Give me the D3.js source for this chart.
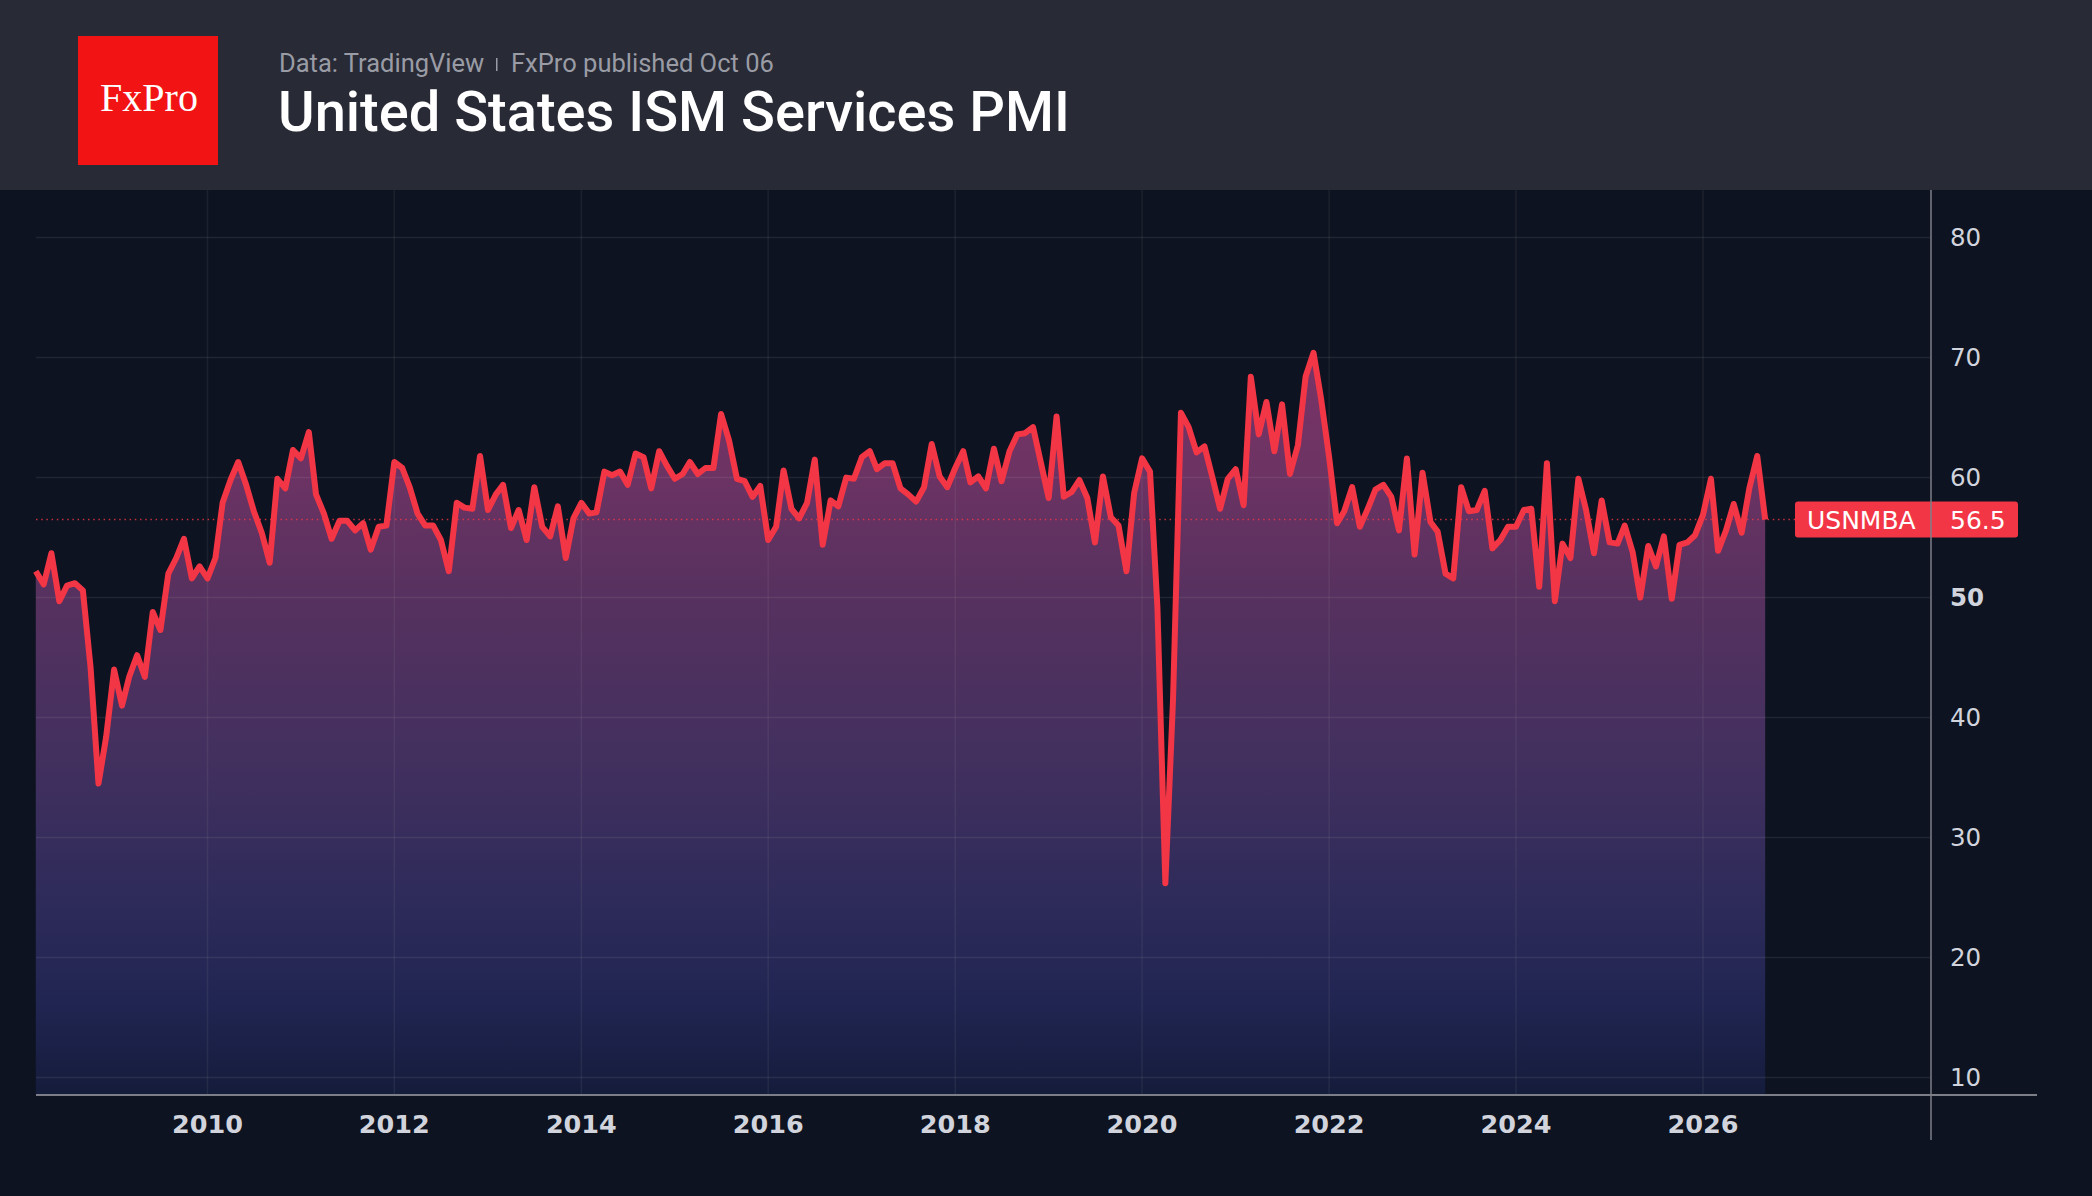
<!DOCTYPE html>
<html>
<head>
<meta charset="utf-8">
<script src="https://cdn.jsdelivr.net/npm/d3@7"></script>
<style>
  html, body { margin: 0; padding: 0; background: #0d1320; }
  svg { display: block; }
</style>
</head>
<body>
<div id="chart"></div>
<script>
// ISM services business activity, monthly from Mar 2008
const startMonth = "2008-03";
const activity = [
  52.2, 51.1, 53.7, 49.7, 51.0, 51.2, 50.6, 44.2, 34.5, 38.4,
  44.0, 41.0, 43.4, 45.2, 43.4, 48.8, 47.3, 52.0, 53.3, 54.9,
  51.6, 52.6, 51.6, 53.3, 57.9, 59.8, 61.3, 59.4, 57.2, 55.4,
  52.9, 59.9, 59.1, 62.3, 61.6, 63.8, 58.6, 57.0, 54.9, 56.4,
  56.4, 55.6, 56.2, 54.0, 55.9, 56.0, 61.3, 60.8, 59.2, 57.0,
  56.0, 56.0, 54.8, 52.2, 57.9, 57.5, 57.4, 61.8, 57.3, 58.6,
  59.4, 55.8, 57.3, 54.8, 59.2, 55.9, 55.1, 57.6, 53.3, 56.6,
  57.9, 57.0, 57.1, 60.5, 60.2, 60.5, 59.4, 62.0, 61.7, 59.1,
  62.2, 61.0, 59.9, 60.3, 61.3, 60.3, 60.8, 60.8, 65.3, 63.1,
  59.9, 59.7, 58.4, 59.3, 54.8, 55.9, 60.6, 57.4, 56.6, 57.9,
  61.5, 54.4, 58.1, 57.6, 60.0, 59.9, 61.7, 62.2, 60.7, 61.2,
  61.2, 59.1, 58.6, 58.0, 59.2, 62.8, 60.1, 59.2, 60.8, 62.2,
  59.6, 60.1, 59.1, 62.4, 59.7, 62.2, 63.6, 63.7, 64.2, 61.3,
  58.3, 65.1, 58.4, 58.8, 59.8, 58.3, 54.6, 60.1, 56.7, 56.0,
  52.2, 58.7, 61.6, 60.5, 49.2, 26.2, 41.5, 65.4, 64.2, 62.1,
  62.6, 60.1, 57.4, 59.9, 60.7, 57.7, 68.4, 63.6, 66.3, 62.2,
  66.1, 60.3, 62.7, 68.4, 70.4, 66.5, 61.7, 56.2, 57.2, 59.2,
  55.9, 57.4, 59.0, 59.4, 58.4, 55.6, 61.6, 53.6, 60.4, 56.3,
  55.5, 52.0, 51.6, 59.2, 57.2, 57.3, 58.9, 54.1, 54.8, 55.9,
  55.9, 57.3, 57.4, 50.9, 61.2, 49.7, 54.5, 53.3, 59.9, 57.3,
  53.7, 58.1, 54.6, 54.5, 56.0, 53.8, 50.0, 54.3, 52.6, 55.1,
  49.9, 54.4, 54.6, 55.2, 56.9, 59.9, 53.9, 55.6, 57.8, 55.4,
  59.1, 61.8, 56.5
];
const yTickValues = [10, 20, 30, 40, 50, 60, 70, 80];
const boldYTick = 50;
const xTickYears = [2010, 2012, 2014, 2016, 2018, 2020, 2022, 2024, 2026];
const seriesCode = "USNMBA";
const sourceText = "Data: TradingView";
const publishedText = "FxPro published Oct 06";
const titleText = "United States ISM Services PMI";
const brandText = "FxPro";

const W = 2092, H = 1196;
const headerH = 190;
const plotLeft = 36, axisX = 1931, axisBottom = 1095;

const parseMonth = d3.timeParse("%Y-%m");
const first = parseMonth(startMonth);
const data = activity.map((v, i) => ({date: d3.timeMonth.offset(first, i), value: v}));

const x = d3.scaleTime()
    .domain([new Date(2010, 0, 1), new Date(2026, 0, 1)])
    .range([207.5, 1703]);
const y = d3.scaleLinear()
    .domain([10, 80])
    .range([1077.6, 237.6]);

const svg = d3.select("#chart").append("svg")
    .attr("width", W)
    .attr("height", H);

svg.append("rect").attr("width", W).attr("height", H).attr("fill", "#0d1320");

// header
svg.append("rect").attr("width", W).attr("height", headerH).attr("fill", "#282a36");
svg.append("rect")
    .attr("x", 78).attr("y", 36).attr("width", 140).attr("height", 129)
    .attr("fill", "#f21414");
svg.append("text")
    .attr("x", 149).attr("y", 111)
    .attr("text-anchor", "middle")
    .attr("font-family", "'Liberation Serif', 'DejaVu Serif', serif")
    .attr("font-size", 40)
    .attr("fill", "#ffffff")
    .text(brandText);

svg.append("text")
    .attr("x", 279).attr("y", 72)
    .attr("font-family", "Roboto, sans-serif")
    .attr("font-size", 25.5)
    .attr("fill", "#9a9ca5")
    .text(sourceText);
svg.append("rect")
    .attr("x", 496).attr("y", 58).attr("width", 1.5).attr("height", 13)
    .attr("fill", "#9a9ca5");
svg.append("text")
    .attr("x", 511).attr("y", 72)
    .attr("font-family", "Roboto, sans-serif")
    .attr("font-size", 25.5)
    .attr("fill", "#9a9ca5")
    .text(publishedText);
svg.append("text")
    .attr("x", 278).attr("y", 131)
    .attr("font-family", "Roboto, sans-serif")
    .attr("font-weight", 500)
    .attr("font-size", 56)
    .attr("fill", "#ffffff")
    .text(titleText);

// area gradient
const defs = svg.append("defs");
const grad = defs.append("linearGradient")
    .attr("id", "fillGrad")
    .attr("gradientUnits", "userSpaceOnUse")
    .attr("x1", 0).attr("x2", 0)
    .attr("y1", 240).attr("y2", axisBottom);
[[0, "#8a3569"], [0.28, "#6b3363"], [0.42, "#56315f"], [0.6, "#43305f"],
 [0.77, "#2e2b5a"], [0.89, "#212552"], [1, "#141c3b"]]
    .forEach(s => grad.append("stop").attr("offset", s[0]).attr("stop-color", s[1]));

const area = d3.area()
    .x(d => x(d.date))
    .y0(axisBottom)
    .y1(d => y(d.value));
svg.append("path")
    .datum(data)
    .attr("d", area)
    .attr("fill", "url(#fillGrad)");

// grid
svg.append("g")
    .selectAll("line")
    .data(yTickValues)
    .join("line")
    .attr("x1", plotLeft).attr("x2", axisX)
    .attr("y1", d => y(d)).attr("y2", d => y(d))
    .attr("stroke", "rgba(190,190,180,0.11)")
    .attr("stroke-width", 1.5);
svg.append("g")
    .selectAll("line")
    .data(xTickYears)
    .join("line")
    .attr("x1", d => x(new Date(d, 0, 1))).attr("x2", d => x(new Date(d, 0, 1)))
    .attr("y1", headerH).attr("y2", axisBottom)
    .attr("stroke", "rgba(190,190,180,0.09)")
    .attr("stroke-width", 1.5);

// last value dotted line
const last = data[data.length - 1];
svg.append("line")
    .attr("x1", plotLeft).attr("x2", 1795)
    .attr("y1", y(last.value)).attr("y2", y(last.value))
    .attr("stroke", "#f23645")
    .attr("stroke-opacity", 0.8)
    .attr("stroke-width", 1.5)
    .attr("stroke-dasharray", "1.5,3.7");

// series line
const line = d3.line()
    .x(d => x(d.date))
    .y(d => y(d.value));
svg.append("path")
    .datum(data)
    .attr("d", line)
    .attr("fill", "none")
    .attr("stroke", "#f23645")
    .attr("stroke-width", 6)
    .attr("stroke-linejoin", "round");

// bottom axis line
svg.append("line")
    .attr("x1", plotLeft).attr("x2", 2037)
    .attr("y1", axisBottom).attr("y2", axisBottom)
    .attr("stroke", "#7c7f88").attr("stroke-width", 2);

// y labels
svg.append("g")
    .selectAll("text")
    .data(yTickValues)
    .join("text")
    .attr("x", 1950)
    .attr("y", d => y(d))
    .attr("dy", "0.36em")
    .attr("font-family", "'DejaVu Sans', sans-serif")
    .attr("font-size", 24.5)
    .attr("font-weight", d => d === boldYTick ? "bold" : "normal")
    .attr("fill", "#d1d4dc")
    .text(d => d);

// x labels
svg.append("g")
    .selectAll("text")
    .data(xTickYears)
    .join("text")
    .attr("x", d => x(new Date(d, 0, 1)))
    .attr("y", 1124)
    .attr("dy", "0.36em")
    .attr("text-anchor", "middle")
    .attr("font-family", "'DejaVu Sans', sans-serif")
    .attr("font-size", 25.5)
    .attr("font-weight", "bold")
    .attr("fill", "#d1d4dc")
    .text(d => d);

// last value label
const ly = y(last.value);
svg.append("rect")
    .attr("x", 1795).attr("y", ly - 18).attr("width", 223).attr("height", 36)
    .attr("rx", 3)
    .attr("fill", "#f23645");
svg.append("text")
    .attr("x", 1807).attr("y", ly).attr("dy", "0.36em")
    .attr("font-family", "'DejaVu Sans', sans-serif")
    .attr("font-size", 25)
    .attr("fill", "#ffffff")
    .text(seriesCode);
svg.append("text")
    .attr("x", 1950).attr("y", ly).attr("dy", "0.36em")
    .attr("font-family", "'DejaVu Sans', sans-serif")
    .attr("font-size", 25)
    .attr("fill", "#ffffff")
    .text(d3.format(".1f")(last.value));

svg.append("line")
    .attr("x1", axisX).attr("x2", axisX)
    .attr("y1", headerH).attr("y2", 1140)
    .attr("stroke", "#7c7f88").attr("stroke-width", 1.5);
</script>
</body>
</html>
